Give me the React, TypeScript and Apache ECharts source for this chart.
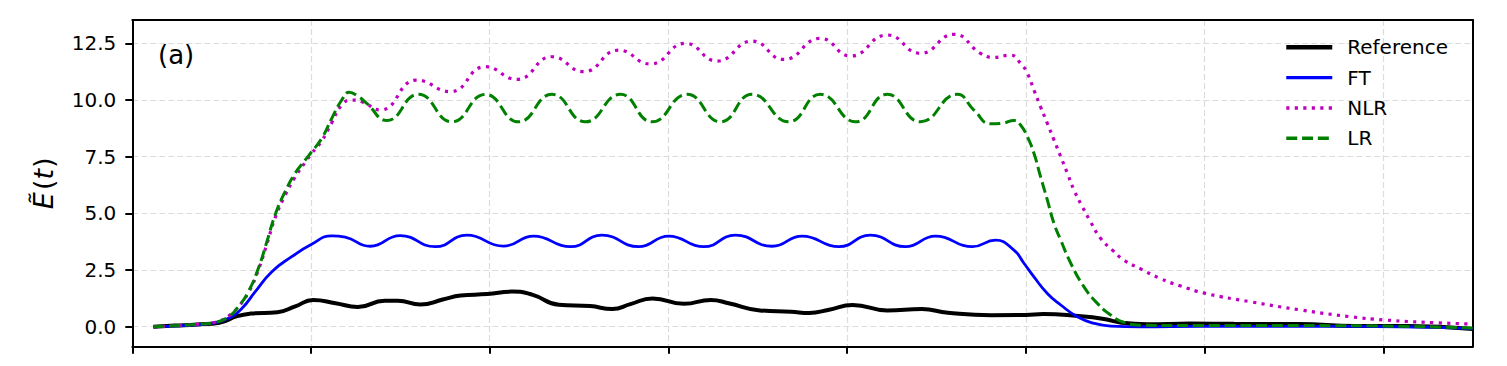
import React, { useEffect, useRef } from "react";
import * as echarts from "echarts";

const yTicks = [0, 2.5, 5, 7.5, 10, 12.5];
const xTicks = [0, 100, 200, 300, 400, 500, 600, 700];

const refT = [11.8, 23.9, 36.2, 48.7, 58.7, 66.2, 81.2, 91.2, 101.2, 113.7, 126.2, 141.2, 148.7, 161.2, 173.7, 183.7, 198.7, 212.4, 223.7, 238.7, 256.2, 268.6, 278.7, 291.1, 308.7, 323.7, 333.6, 351.2, 368.6, 378.7, 389.9, 403.0, 422.4, 441.8, 456.3, 480.6, 500.0, 509.7, 529.1, 543.7, 553.4, 567.9, 592.2, 616.5, 652.9, 684.4, 713.5, 750];
const refE = [0.0, 0.05, 0.1, 0.18, 0.47, 0.58, 0.64, 0.9, 1.18, 1.04, 0.87, 1.15, 1.15, 0.98, 1.2, 1.38, 1.44, 1.55, 1.42, 0.97, 0.91, 0.78, 1.0, 1.25, 1.01, 1.18, 1.04, 0.72, 0.66, 0.61, 0.75, 0.96, 0.72, 0.78, 0.62, 0.51, 0.52, 0.56, 0.47, 0.34, 0.18, 0.11, 0.14, 0.13, 0.12, 0.03, 0.03, -0.1];

const ftT = [11.8, 35.1, 46.3, 53.8, 61.3, 68.7, 78.1, 89.2, 100.1, 111.6, 119.1, 133.1, 149.9, 169.5, 187.2, 207.7, 224.5, 245.1, 262.8, 283.3, 300.1, 319.7, 337.5, 358.0, 374.8, 395.3, 413.0, 432.6, 449.4, 470.0, 483.0, 493.3, 498.9, 504.5, 512.0, 519.5, 528.8, 538.1, 547.4, 564.2, 597.8, 653.8, 709.8, 750];
const ftE = [0.0, 0.08, 0.18, 0.37, 0.81, 1.54, 2.43, 3.09, 3.63, 4.01, 3.95, 3.55, 4.02, 3.53, 4.04, 3.56, 4.0, 3.53, 4.04, 3.53, 4.0, 3.53, 4.04, 3.55, 4.0, 3.53, 4.04, 3.53, 4.0, 3.53, 3.82, 3.38, 2.8, 2.2, 1.47, 0.96, 0.44, 0.15, 0.03, 0.0, 0.02, 0.02, 0.0, -0.08];

const nlrT = [11.8, 35.1, 46.3, 53.8, 59.3, 64.9, 70.5, 75.3, 79.9, 85.5, 91.1, 96.7, 100.4, 106.0, 111.6, 117.2, 122.8, 128.4, 138.7, 159.2, 177.9, 197.5, 215.2, 234.8, 252.5, 272.1, 289.9, 309.5, 327.2, 346.8, 364.5, 385.0, 401.9, 422.4, 441.0, 459.7, 474.6, 482.1, 491.4, 497.0, 500.8, 504.5, 508.2, 512.0, 515.7, 519.5, 523.2, 526.9, 531.6, 536.2, 541.8, 548.4, 554.9, 564.2, 575.4, 585.7, 600.6, 625.8, 653.8, 681.8, 700.4, 728.4, 750];
const nlrE = [0.0, 0.1, 0.2, 0.47, 0.88, 1.5, 2.5, 3.65, 4.8, 5.8, 6.6, 7.25, 7.65, 8.2, 9.0, 9.78, 10.0, 9.93, 9.56, 10.88, 10.37, 11.47, 10.91, 11.91, 11.25, 12.2, 11.59, 12.5, 11.72, 12.6, 11.79, 12.72, 11.94, 12.87, 12.06, 12.9, 12.06, 11.88, 11.98, 11.62, 11.18, 10.44, 9.7, 8.97, 8.24, 7.5, 6.77, 6.03, 5.29, 4.63, 3.9, 3.38, 2.94, 2.55, 2.12, 1.82, 1.47, 1.10, 0.74, 0.44, 0.30, 0.18, 0.12];

const lrT = [11.8, 35.1, 46.3, 53.8, 59.3, 64.9, 70.5, 75.3, 79.9, 85.5, 91.1, 96.7, 100.4, 106.0, 111.6, 117.2, 121.3, 126.5, 131.2, 142.4, 160.1, 178.8, 197.5, 216.1, 234.8, 253.5, 273.1, 290.8, 310.4, 329.1, 346.8, 367.3, 385.0, 404.7, 422.4, 441.0, 461.6, 470.9, 480.2, 487.0, 493.3, 497.0, 500.8, 504.5, 508.2, 512.0, 515.7, 519.5, 525.1, 532.5, 540.0, 547.4, 554.9, 564.2, 597.8, 653.8, 709.8, 750];
const lrE = [0.0, 0.1, 0.19, 0.44, 0.88, 1.54, 2.57, 3.75, 4.93, 5.96, 6.77, 7.35, 7.72, 8.31, 9.19, 10.0, 10.34, 10.15, 9.85, 9.1, 10.25, 9.04, 10.25, 9.04, 10.25, 9.04, 10.25, 9.04, 10.25, 9.04, 10.25, 9.04, 10.25, 9.04, 10.25, 9.04, 10.25, 9.56, 8.95, 8.98, 9.1, 8.9, 8.38, 7.65, 6.62, 5.59, 4.56, 3.82, 2.8, 1.76, 1.03, 0.52, 0.19, 0.07, 0.05, 0.05, 0.02, -0.06];

const zip = (t: number[], v: number[]) => t.map((x, i) => [x, v[i]]);

const FONT = "DejaVu Sans";
const X_MIN = 0;
const X_MAX = 750;
const Y_MIN = -0.88;
const Y_MAX = 13.53;

export default function App() {
  const ref = useRef<HTMLDivElement>(null);
  useEffect(() => {
    if (!ref.current) return;
    const chart = echarts.init(ref.current, null, { renderer: "svg" });
    const gridLine = { show: true, lineStyle: { color: "#dcdcdc", width: 1.2, type: [6, 3] } };
    const tick = { show: true, length: 7, inside: false, lineStyle: { color: "#000", width: 2 } };
    const spine = { show: true, onZero: false, lineStyle: { color: "#000", width: 2 } };
    const frameOnly = {
      axisLine: spine,
      axisTick: { show: false },
      axisLabel: { show: false },
      splitLine: { show: false },
    };
    chart.setOption({
      animation: false,
      grid: { left: 124.3, top: 12, width: 1340.4, height: 326.7, show: false },
      xAxis: [
        {
          type: "value", min: X_MIN, max: X_MAX, position: "bottom",
          axisLine: spine,
          axisTick: { ...tick, customValues: xTicks },
          axisLabel: { show: false, customValues: xTicks },
          splitLine: gridLine,
        },
        { type: "value", min: X_MIN, max: X_MAX, position: "top", ...frameOnly },
      ],
      yAxis: [
        {
          type: "value", min: Y_MIN, max: Y_MAX, position: "left",
          axisLine: spine,
          axisTick: { ...tick, customValues: yTicks },
          axisLabel: {
            customValues: yTicks,
            formatter: (v: number) => v.toFixed(1),
            fontSize: 20, color: "#000", fontFamily: FONT, margin: 16,
          },
          splitLine: gridLine,
        },
        { type: "value", min: Y_MIN, max: Y_MAX, position: "right", ...frameOnly },
      ],
      legend: {
        orient: "vertical", left: 1271, top: 24.3,
        itemWidth: 46, itemHeight: 14, itemGap: 10.3,
        textStyle: { fontSize: 20, color: "#000", fontFamily: FONT, padding: [0, 0, 0, 10] },
        itemStyle: { opacity: 0 },
        data: [
          { name: "Reference", lineStyle: { width: 4.5 } },
          { name: "FT", lineStyle: { width: 3.2 } },
          { name: "NLR", lineStyle: { width: 3.5 } },
          { name: "LR", lineStyle: { width: 3.5 } },
        ],
      },
      graphic: [
        {
          type: "text", x: 150, y: 47,
          style: { text: "(a)", fontSize: 26, fontFamily: FONT, fill: "#000", align: "left", verticalAlign: "middle" },
        },
        {
          type: "text", x: 35, y: 183.3 - 8, rotation: Math.PI / 2,
          style: {
            text: "{i|Ẽ}{p|(}{i|t}{q|)}",
            align: "center", verticalAlign: "middle",
            rich: {
              i: { fontSize: 27, fontFamily: FONT, fontStyle: "italic", fill: "#000" },
              p: { fontSize: 27, fontFamily: FONT, fill: "#000", padding: [0, 0, 0, 2] },
              q: { fontSize: 27, fontFamily: FONT, fill: "#000", padding: [0, 0, 0, 1] },
            },
          },
        },
      ],
      series: [
        {
          name: "Reference", type: "line", data: zip(refT, refE), smooth: true, symbol: "none",
          itemStyle: { color: "#000000" }, lineStyle: { color: "#000000", width: 4 },
        },
        {
          name: "FT", type: "line", data: zip(ftT, ftE), smooth: true, symbol: "none",
          itemStyle: { color: "#0000ff" }, lineStyle: { color: "#0000ff", width: 2.8 },
        },
        {
          name: "NLR", type: "line", data: zip(nlrT, nlrE), smooth: true, symbol: "none",
          itemStyle: { color: "#bf00bf" }, lineStyle: { color: "#bf00bf", width: 3.2, type: [3.2, 5.3], cap: "butt" },
        },
        {
          name: "LR", type: "line", data: zip(lrT, lrE), smooth: true, symbol: "none",
          itemStyle: { color: "#008000" }, lineStyle: { color: "#008000", width: 3, type: [11, 4.8], cap: "butt" },
        },
      ],
    });
    return () => chart.dispose();
  }, []);
  return <div ref={ref} style={{ width: 1491, height: 350 }} />;
}
